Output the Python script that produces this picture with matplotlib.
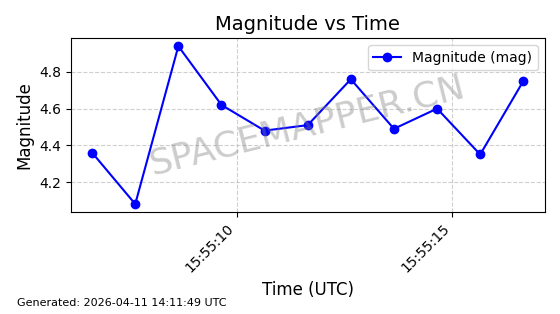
import matplotlib
matplotlib.use("Agg")
import matplotlib.pyplot as plt
import matplotlib.dates as mdates
import datetime as dt

base = dt.datetime(2026, 4, 11, 15, 55, 6, 650000)
offsets_s = [0, 1, 2, 3, 4, 5, 6, 7, 8, 9, 10]
times = [base + dt.timedelta(seconds=s) for s in offsets_s]
magnitudes = [4.36, 4.08, 4.94, 4.62, 4.48, 4.51, 4.76, 4.49, 4.60, 4.35, 4.75]

fig = plt.figure(figsize=(5.6, 3.14), dpi=100)
ax = fig.add_axes([0.126, 0.325, 0.847, 0.553])
ax.plot(times, magnitudes, marker='o', color='blue', linestyle='-', label='Magnitude (mag)')
ax.set_title('Magnitude vs Time', fontsize=14)
ax.set_xlabel('Time (UTC)', fontsize=12)
ax.set_ylabel('Magnitude', fontsize=12)
ax.grid(True, linestyle='--', alpha=0.6)
ax.legend(loc='upper right')
ax.xaxis.set_major_formatter(mdates.DateFormatter('%H:%M:%S'))
plt.setp(ax.get_xticklabels(), rotation=45, ha='right')
ax.text(0.5, 0.5, 'SPACEMAPPER.CN', transform=ax.transAxes, fontsize=26,
        color='gray', alpha=0.4, rotation=14, ha='center', va='center')
fig.text(0.03, 0.025, 'Generated: 2026-04-11 14:11:49 UTC', fontsize=8)
fig.savefig('out.png', dpi=100)
